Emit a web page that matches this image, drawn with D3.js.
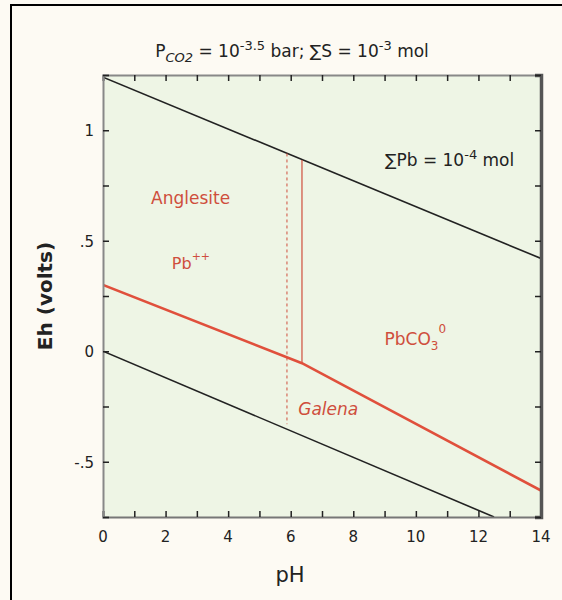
<!DOCTYPE html>
<html lang="en">
<head>
<meta charset="UTF-8">
<title>Eh-pH diagram Pb-S-C-O-H</title>
<script src="https://d3js.org/d3.v7.min.js"></script>
<style>
  body {margin:0; background-color:#fdfaf3;}
  text {font-family:"DejaVu Sans", sans-serif;}
</style>
</head>
<body>
<div id="chart"></div>
<script>
// boundaries: [pH, Eh]
var waterUpper = [[0, 1.24], [14, 0.42]];
var waterLower = [[0, 0], [12.5, -0.75]];
var galenaLine = [[0, 0.30], [6.36, -0.054], [14, -0.63]];
var dashedLine = [[5.88, 0.895], [5.88, -0.33]];
var solidLine = [[6.36, 0.865], [6.36, -0.054]];

var xTicks = [0, 2, 4, 6, 8, 10, 12, 14];
var xMinor = d3.range(0, 15, 1);
var yTicks = [1, 0.5, 0, -0.5];
var yTickLabels = ["1", ".5", "0", "-.5"];
var yMinor = [1.25, 1, 0.75, 0.5, 0.25, 0, -0.25, -0.5, -0.75];

var regions = [
  {name: "Anglesite", pH: 2.8, Eh: 0.665, italic: false},
  {name: "Galena", pH: 7.2, Eh: -0.29, italic: true}
];

var w = 562, h = 600;
var plotL = 103, plotR = 541, plotT = 75, plotB = 517;
var red = "#cf4e3c";

var svg = d3.select("#chart").append("svg")
    .attr("width", w)
    .attr("height", h);

var x = d3.scaleLinear().domain([0, 14]).range([plotL, plotR]);
var y = d3.scaleLinear().domain([-0.75, 1.25]).range([plotB, plotT]);

// outer frame (only left and top show)
svg.append("rect")
    .attr("x", 11).attr("y", 5)
    .attr("width", 620).attr("height", 700)
    .attr("fill", "none")
    .attr("stroke", "black")
    .attr("stroke-width", 2);

svg.append("defs").append("clipPath").attr("id", "plotclip")
  .append("rect")
    .attr("x", plotL).attr("y", plotT)
    .attr("width", plotR - plotL).attr("height", plotB - plotT);

svg.append("rect")
    .attr("x", plotL).attr("y", plotT)
    .attr("width", plotR - plotL).attr("height", plotB - plotT)
    .attr("fill", "#eef5e5");

var line = d3.line().x(function(d) {return x(d[0]);}).y(function(d) {return y(d[1]);});
var plot = svg.append("g").attr("clip-path", "url(#plotclip)");

plot.append("path").datum(waterUpper).attr("d", line)
    .attr("fill", "none").attr("stroke", "#222").attr("stroke-width", 1.6);
plot.append("path").datum(waterLower).attr("d", line)
    .attr("fill", "none").attr("stroke", "#222").attr("stroke-width", 1.6);
plot.append("path").datum(dashedLine).attr("d", line)
    .attr("fill", "none").attr("stroke", red).attr("stroke-width", 1)
    .attr("stroke-dasharray", "3,3");
plot.append("path").datum(solidLine).attr("d", line)
    .attr("fill", "none").attr("stroke", red).attr("stroke-width", 1.2);
plot.append("path").datum(galenaLine).attr("d", line)
    .attr("fill", "none").attr("stroke", "#e0503c").attr("stroke-width", 2.6);

// axes: inward ticks
svg.append("g").attr("transform", "translate(0," + plotB + ")")
    .call(d3.axisTop(x).tickValues(xMinor).tickSize(6).tickFormat(""))
    .call(function(g) {g.select(".domain").attr("stroke", "#777").attr("stroke-width", 2);});
svg.append("g").attr("transform", "translate(0," + plotT + ")")
    .call(d3.axisBottom(x).tickValues(xMinor).tickSize(6).tickFormat(""))
    .call(function(g) {g.select(".domain").attr("stroke", "#888").attr("stroke-width", 2);});
svg.append("g").attr("transform", "translate(" + plotL + ",0)")
    .call(d3.axisRight(y).tickValues(yMinor).tickSize(6).tickFormat(""))
    .call(function(g) {g.select(".domain").attr("stroke", "#888").attr("stroke-width", 2);});
svg.append("g").attr("transform", "translate(" + plotR + ",0)")
    .call(d3.axisLeft(y).tickValues(yMinor).tickSize(6).tickFormat(""))
    .call(function(g) {g.select(".domain").attr("stroke", "#555").attr("stroke-width", 3.5);});
svg.selectAll(".tick line").attr("stroke", "#222").attr("stroke-width", 1.5);

// tick labels
svg.selectAll(".xlab").data(xTicks).enter().append("text")
    .attr("x", function(d) {return x(d);})
    .attr("y", plotB + 25)
    .attr("text-anchor", "middle")
    .attr("font-size", "15px")
    .attr("fill", "#222")
    .text(function(d) {return d;});
svg.selectAll(".ylab").data(yTicks).enter().append("text")
    .attr("x", plotL - 9)
    .attr("y", function(d) {return y(d) + 6;})
    .attr("text-anchor", "end")
    .attr("font-size", "15px")
    .attr("fill", "#222")
    .text(function(d, i) {return yTickLabels[i];});

// axis titles
svg.append("text")
    .attr("x", 290).attr("y", 582)
    .attr("text-anchor", "middle")
    .attr("font-size", "21px")
    .attr("fill", "#222")
    .text("pH");
svg.append("text")
    .attr("transform", "translate(52," + y(0.25) + ") rotate(-90)")
    .attr("text-anchor", "middle")
    .attr("font-size", "20px")
    .attr("font-weight", "bold")
    .attr("fill", "#222")
    .text("Eh (volts)");

// header
var title = svg.append("text")
    .attr("x", 292).attr("y", 57)
    .attr("text-anchor", "middle")
    .attr("font-size", "17px")
    .attr("fill", "#222");
title.append("tspan").text("P");
title.append("tspan").attr("font-size", "13px").attr("dy", 5).attr("font-style", "italic").text("CO2");
title.append("tspan").attr("dy", -5).text(" = 10");
title.append("tspan").attr("font-size", "13px").attr("dy", -7).text("-3.5");
title.append("tspan").attr("dy", 7).text(" bar; \u2211S = 10");
title.append("tspan").attr("font-size", "13px").attr("dy", -7).text("-3");
title.append("tspan").attr("dy", 7).text(" mol");

var pb = svg.append("text")
    .attr("x", 385).attr("y", y(0.84))
    .attr("font-size", "17px")
    .attr("fill", "#222");
pb.append("tspan").text("\u2211Pb = 10");
pb.append("tspan").attr("font-size", "13px").attr("dy", -7).text("-4");
pb.append("tspan").attr("dy", 7).text(" mol");

// region labels
svg.selectAll(".region").data(regions).enter().append("text")
    .attr("x", function(d) {return x(d.pH);})
    .attr("y", function(d) {return y(d.Eh);})
    .attr("text-anchor", "middle")
    .attr("font-size", "17px")
    .attr("font-style", function(d) {return d.italic ? "italic" : "normal";})
    .attr("fill", red)
    .text(function(d) {return d.name;});

var pbion = svg.append("text")
    .attr("x", x(2.2)).attr("y", y(0.37))
    .attr("font-size", "16px")
    .attr("fill", red);
pbion.append("tspan").text("Pb");
pbion.append("tspan").attr("font-size", "11px").attr("dy", -9).text("++");

var pbco3 = svg.append("text")
    .attr("x", x(9.0)).attr("y", y(0.03))
    .attr("font-size", "17px")
    .attr("fill", red);
pbco3.append("tspan").text("PbCO");
pbco3.append("tspan").attr("font-size", "12px").attr("dy", 5).text("3");
pbco3.append("tspan").attr("font-size", "12px").attr("dy", -17).text("0");
</script>
</body>
</html>
